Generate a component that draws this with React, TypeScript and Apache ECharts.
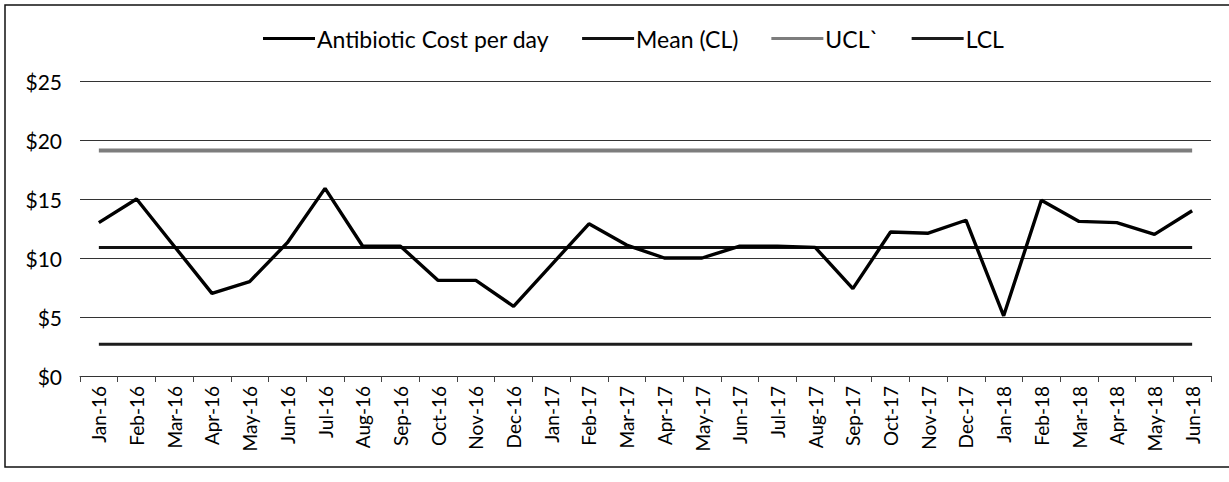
import React, { useEffect, useRef } from "react";
import * as echarts from "echarts";

const categories = [
  "Jan-16", "Feb-16", "Mar-16", "Apr-16", "May-16", "Jun-16", "Jul-16", "Aug-16", "Sep-16", "Oct-16",
  "Nov-16", "Dec-16", "Jan-17", "Feb-17", "Mar-17", "Apr-17", "May-17", "Jun-17", "Jul-17", "Aug-17",
  "Sep-17", "Oct-17", "Nov-17", "Dec-17", "Jan-18", "Feb-18", "Mar-18", "Apr-18", "May-18", "Jun-18",
];

const costPerDay = [
  13.0, 15.0, 11.0, 7.0, 8.0, 11.3, 15.9, 11.0, 11.0, 8.1,
  8.1, 5.9, 9.4, 12.9, 11.1, 10.0, 10.0, 11.0, 11.0, 10.9,
  7.4, 12.2, 12.1, 13.2, 5.1, 14.9, 13.1, 13.0, 12.0, 14.0,
];

const MEAN_CL = 10.9;
const UCL = 19.1;
const LCL = 2.7;

const yTicks = { min: 0, max: 25, interval: 5 };

const seriesNames = ["Antibiotic Cost per day", "Mean (CL)", "UCL`", "LCL"];

export default function App() {
  const ref = useRef<HTMLDivElement>(null);

  useEffect(() => {
    document.body.style.margin = "0";
    if (!ref.current) return;
    const chart = echarts.init(ref.current, undefined, { renderer: "svg" });
    const font = "Lato, 'Noto Sans', sans-serif";
    const meanData = categories.map(() => MEAN_CL);
    const uclData = categories.map(() => UCL);
    const lclData = categories.map(() => LCL);

    chart.setOption({
      animation: false,
      backgroundColor: "#ffffff",
      textStyle: { fontFamily: font },
      graphic: [
        {
          type: "rect",
          silent: true,
          z: -10,
          shape: { x: 5, y: 5, width: 1300, height: 462 },
          style: { fill: "none", stroke: "#111", lineWidth: 1.5 },
        },
      ],
      legend: {
        left: 258,
        top: 22,
        icon: "rect",
        itemWidth: 52,
        itemHeight: 3,
        itemGap: 33,
        textStyle: { fontSize: 23, color: "#000", fontFamily: font, padding: [0, 0, 0, -3] },
        data: seriesNames,
      },
      grid: { left: 80, right: 18, top: 81, bottom: 106 },
      xAxis: {
        type: "category",
        data: categories,
        boundaryGap: true,
        axisLine: { lineStyle: { color: "#333", width: 1 } },
        axisTick: { show: true, length: 6, lineStyle: { color: "#444" } },
        axisLabel: {
          rotate: 90,
          interval: 0,
          fontSize: 19,
          color: "#000",
          margin: 10,
          fontFamily: font,
        },
      },
      yAxis: {
        type: "value",
        min: yTicks.min,
        max: yTicks.max,
        interval: yTicks.interval,
        axisLine: { show: false },
        axisTick: { show: false },
        axisLabel: {
          formatter: "${value}",
          fontSize: 21,
          color: "#000",
          margin: 18,
          fontFamily: font,
        },
        splitLine: { lineStyle: { color: "#333", width: 1.2 } },
      },
      series: [
        {
          name: seriesNames[0],
          type: "line",
          data: costPerDay,
          symbol: "none",
          lineStyle: { color: "#000", width: 3.4 },
          itemStyle: { color: "#000" },
          z: 5,
        },
        {
          name: seriesNames[1],
          type: "line",
          data: meanData,
          symbol: "none",
          lineStyle: { color: "#111", width: 3 },
          itemStyle: { color: "#111" },
        },
        {
          name: seriesNames[2],
          type: "line",
          data: uclData,
          symbol: "none",
          lineStyle: { color: "#7d7d7d", width: 4 },
          itemStyle: { color: "#7d7d7d" },
        },
        {
          name: seriesNames[3],
          type: "line",
          data: lclData,
          symbol: "none",
          lineStyle: { color: "#1c1c1c", width: 3 },
          itemStyle: { color: "#1c1c1c" },
        },
      ],
    });

    return () => chart.dispose();
  }, []);

  return <div ref={ref} style={{ width: 1229, height: 482 }} />;
}
